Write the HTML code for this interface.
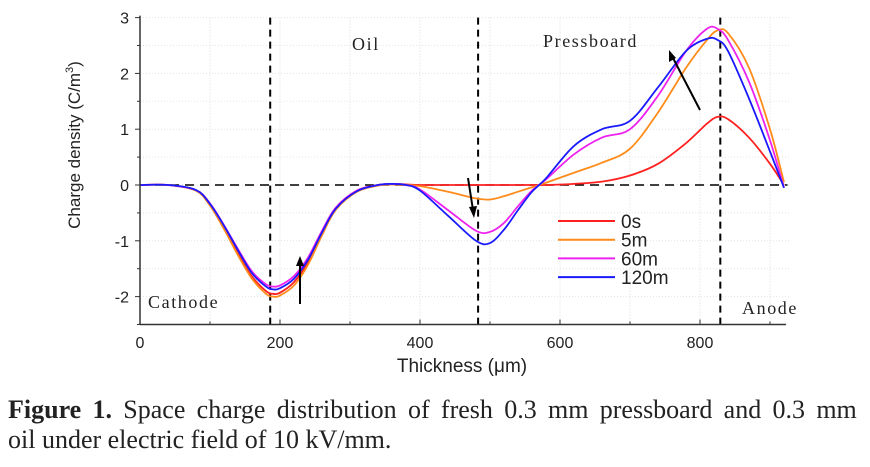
<!DOCTYPE html>
<html><head><meta charset="utf-8"><style>
body{margin:0;background:#fff;width:870px;height:467px;overflow:hidden}
svg{display:block}
.tk{font-family:"Liberation Sans",sans-serif;fill:#222}
.ser{font-family:"Liberation Serif",serif;fill:#222}
.rg{font-size:18px;letter-spacing:1.6px}
</style></head><body>
<svg id="chart" width="870" height="467" viewBox="0 0 870 467" xmlns="http://www.w3.org/2000/svg">
<g id="grid"></g>
<g id="guides"></g>
<g id="series"></g>
<g id="axes"></g>
<text class="ser rg" x="352" y="50">Oil</text>
<text class="ser rg" x="543" y="47">Pressboard</text>
<text class="ser rg" x="148" y="308">Cathode</text>
<text class="ser rg" x="742" y="314">Anode</text>
<g stroke="#000" stroke-width="2" fill="#000">
<line x1="300" y1="304" x2="300" y2="264"/><polygon points="300,256 296,266 304,266" stroke="none"/>
<line x1="468" y1="178" x2="473" y2="210"/><polygon points="474,218 469,207 477,206" stroke="none"/>
<line x1="700" y1="110" x2="673" y2="58"/><polygon points="669,50 669,62 676,58" stroke="none"/>
</g>
<g id="legend"></g>
<text class="tk" x="462" y="372" text-anchor="middle" style="font-size:19px">Thickness (μm)</text>
<text class="tk" transform="translate(80,145) rotate(-90)" text-anchor="middle" style="font-size:17px">Charge density (C/m<tspan style="font-size:11px" dy="-7">3</tspan><tspan dy="7">)</tspan></text>
<text class="ser" x="8" y="418" style="font-size:26px;word-spacing:4.8px"><tspan font-weight="bold">Figure 1.</tspan> Space charge distribution of fresh 0.3 mm pressboard and 0.3 mm</text>
<text class="ser" x="8" y="448" style="font-size:26px">oil under electric field of 10 kV/mm.</text>
</svg>
<script>
const xs=[0,40,80,100,120,140,160,180,190,200,220,240,260,280,310,340,360,380,400,440,480,500,520,540,560,580,620,660,700,740,780,810,825,840,870,900,920];
const s0s=[0,0,-0.1,-0.36,-0.77,-1.23,-1.64,-1.9,-1.95,-1.93,-1.74,-1.38,-0.87,-0.41,-0.1,0,0.02,0.01,0,0,0,0,0,0,0,0,0.02,0.06,0.17,0.38,0.75,1.1,1.22,1.18,0.85,0.38,0];
const s5m=[0,0,-0.1,-0.37,-0.79,-1.26,-1.68,-1.95,-2.0,-1.98,-1.8,-1.43,-0.9,-0.44,-0.12,-0.01,0.01,0,-0.02,-0.12,-0.24,-0.26,-0.2,-0.12,-0.04,0.04,0.22,0.4,0.65,1.3,2.1,2.6,2.77,2.72,2.1,1.0,0.05];
const s60m=[0,0,-0.09,-0.33,-0.72,-1.15,-1.55,-1.78,-1.82,-1.8,-1.63,-1.3,-0.82,-0.4,-0.1,0,0.02,0.0,-0.08,-0.45,-0.82,-0.84,-0.68,-0.38,-0.1,0.1,0.55,0.85,1.0,1.6,2.4,2.8,2.8,2.6,1.85,0.8,-0.05];
const s120m=[0,0,-0.09,-0.34,-0.73,-1.17,-1.58,-1.82,-1.87,-1.85,-1.68,-1.34,-0.85,-0.42,-0.11,0,0.02,0.0,-0.1,-0.55,-1.0,-1.04,-0.8,-0.45,-0.12,0.12,0.7,1.0,1.15,1.75,2.4,2.62,2.6,2.4,1.55,0.6,-0.05];
const seriesNames=["0s","5m","60m","120m"];
const seriesColors=["#ff2020","#ff8c1a","#ee22ee","#1a1aff"];
const xTicks=[0,200,400,600,800];
const yTicks=[-2,-1,0,1,2,3];
const guideX=[186,483,829];
const NS="http://www.w3.org/2000/svg";
const X=v=>140+v*0.7, Y=v=>185-v*55.8;
function mk(p,t,a){const e=document.createElementNS(NS,t);for(const k in a)e.setAttribute(k,a[k]);p.appendChild(e);return e;}
const grid=document.getElementById('grid'),axes=document.getElementById('axes'),guides=document.getElementById('guides'),ser=document.getElementById('series'),leg=document.getElementById('legend');
for(let v=100;v<=900;v+=100){const l=mk(grid,'line',{x1:X(v),x2:X(v),y1:Y(3),y2:Y(-2.5),stroke:'#ddd','stroke-dasharray':'1,2'});}
for(let v=-2;v<=3;v+=0.5){const l=mk(grid,'line',{x1:X(0),x2:X(930),y1:Y(v),y2:Y(v),stroke:'#e4e4e4','stroke-dasharray':'1,2'});}
guideX.forEach(g=>{const l=mk(guides,'line',{x1:X(g),x2:X(g),y1:Y(3),y2:Y(-2.5),stroke:'#000','stroke-width':2,'stroke-dasharray':'7,5'});});
const z=mk(guides,'line',{x1:X(0),x2:X(925),y1:Y(0),y2:Y(0),stroke:'#000','stroke-width':1.6,'stroke-dasharray':'9,6'});

function smooth(pts){let d=`M${pts[0][0]},${pts[0][1]}`;for(let i=0;i<pts.length-1;i++){const p0=pts[i-1]||pts[i],p1=pts[i],p2=pts[i+1],p3=pts[i+2]||p2;d+=`C${p1[0]+(p2[0]-p0[0])/6},${p1[1]+(p2[1]-p0[1])/6} ${p2[0]-(p3[0]-p1[0])/6},${p2[1]-(p3[1]-p1[1])/6} ${p2[0]},${p2[1]}`;}return d;}
[s0s,s5m,s60m,s120m].forEach((s,i)=>{const p=mk(ser,'path',{d:smooth(xs.map((x,j)=>[X(x),Y(s[j])])),fill:'none',stroke:seriesColors[i],'stroke-width':1.8});


const ly=221+i*18.7;const l=mk(leg,'line',{x1:558,x2:615,y1:ly,y2:ly,stroke:seriesColors[i],'stroke-width':2});


const t=mk(leg,'text',{x:621,y:ly+7,class:'tk',style:'font-size:19px'});t.textContent=seriesNames[i];

});
mk(axes,'line',{x1:X(0),x2:X(0),y1:Y(3)-2,y2:Y(-2.5),stroke:'#333','stroke-width':1.5});
mk(axes,'line',{x1:X(0),x2:X(923),y1:Y(-2.5),y2:Y(-2.5),stroke:'#333','stroke-width':1.5});
for(let v=0;v<=900;v+=100)mk(axes,'line',{x1:X(v),x2:X(v),y1:Y(-2.5),y2:Y(-2.5)-(v%200?3:5),stroke:'#333'});
for(let v=-2.5;v<=3;v+=0.5)mk(axes,'line',{x1:X(0),x2:X(0)-(v%1?3:5),y1:Y(v),y2:Y(v),stroke:'#333'});
xTicks.forEach(v=>{const t=mk(axes,'text',{x:X(v),y:348,class:'tk','text-anchor':'middle',style:'font-size:16px'});t.textContent=v;

});
yTicks.forEach(v=>{const t=mk(axes,'text',{x:129,y:Y(v)+6,class:'tk','text-anchor':'end',style:'font-size:16px'});t.textContent=v;

});
</script>
</body></html>
